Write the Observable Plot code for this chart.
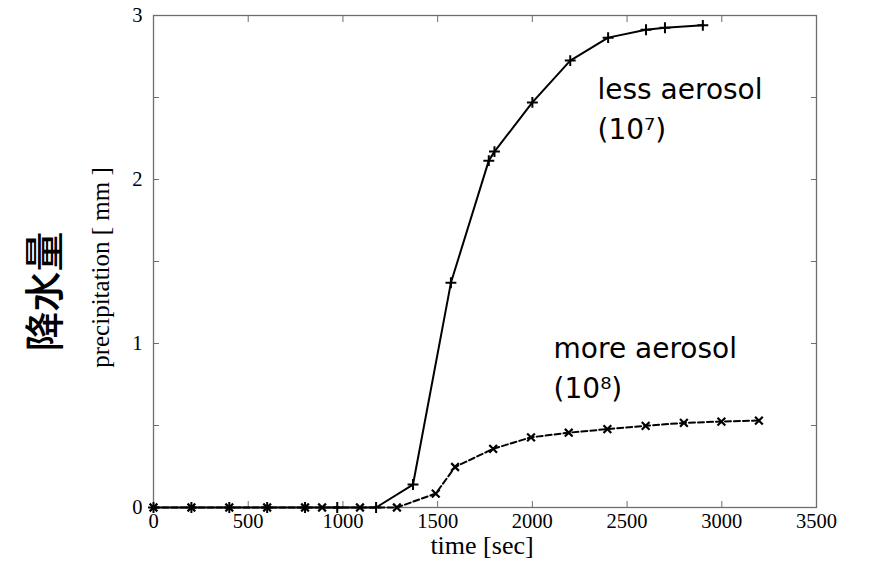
<!DOCTYPE html>
<html>
<head>
<meta charset="utf-8">
<script src="https://cdn.jsdelivr.net/npm/d3@7"></script>
<script src="https://cdn.jsdelivr.net/npm/@observablehq/plot@0.6"></script>
<style>
  html, body { margin: 0; padding: 0; background: #fff; }
  #chart svg { display: block; }
</style>
</head>
<body>
<div id="chart"></div>
<script>
// less aerosol (10^7) — solid line, "+" markers
const lessTime = [0, 200, 400, 600, 800, 970, 1175, 1370, 1570, 1770, 1800, 2000, 2200, 2400, 2600, 2700, 2900];
const lessPrecip = [0, 0, 0, 0, 0, 0, 0, 0.14, 1.37, 2.115, 2.17, 2.47, 2.725, 2.865, 2.913, 2.925, 2.94];
// more aerosol (10^8) — dashed line, "x" markers
const moreTime = [0, 200, 400, 600, 800, 890, 1090, 1285, 1490, 1592, 1793, 1993, 2192, 2396, 2598, 2800, 2998, 3196];
const morePrecip = [0, 0, 0, 0, 0, 0, 0, 0, 0.085, 0.247, 0.358, 0.428, 0.456, 0.478, 0.498, 0.516, 0.524, 0.53];

const xTicks = [0, 500, 1000, 1500, 2000, 2500, 3000, 3500];
const yTicks = [0, 1, 2, 3];
const yMinorTicks = [0, 0.5, 1, 1.5, 2, 2.5, 3];

const annoText = ["less aerosol\n(10\u2077)", "more aerosol\n(10\u2078)"];
const annoTime = [2344, 2112];
const annoPrecip = [2.244, 0.67];

const less = lessTime.map((t, i) => ({t, p: lessPrecip[i]}));
const more = moreTime.map((t, i) => ({t, p: morePrecip[i]}));
const anno = annoText.map((s, i) => ({s, t: annoTime[i], p: annoPrecip[i]}));

const serif = "'Liberation Serif', 'Times New Roman', serif";
const frameColor = "#6e6e6e";
const fmt = d3.format("d");

const chart = Plot.plot({
  width: 869,
  height: 563,
  marginLeft: 153,
  marginRight: 53,
  marginTop: 15,
  marginBottom: 56,
  style: {background: "#fff", fontFamily: serif},
  x: {domain: [0, 3500], axis: null},
  y: {domain: [0, 3], axis: null},
  marks: [
    // inward ticks
    Plot.axisX(xTicks, {anchor: "bottom", tickSize: -6, tickFormat: () => "", stroke: frameColor, label: null}),
    Plot.axisX(xTicks, {anchor: "top", tickSize: -6, tickFormat: () => "", stroke: frameColor, label: null}),
    Plot.axisY(yMinorTicks, {anchor: "left", tickSize: -6, tickFormat: () => "", stroke: frameColor, label: null}),
    Plot.axisY(yMinorTicks, {anchor: "right", tickSize: -6, tickFormat: () => "", stroke: frameColor, label: null}),
    // tick labels
    Plot.axisX(xTicks, {anchor: "bottom", tickSize: 0, tickPadding: 6, tickFormat: fmt, fontSize: 20.5, fill: "#000", fontFamily: serif, label: null}),
    Plot.axisY(yTicks, {anchor: "left", tickSize: 0, tickPadding: 11, tickFormat: fmt, fontSize: 20.5, fill: "#000", fontFamily: serif, label: null}),
    Plot.frame({stroke: frameColor, strokeWidth: 1.3}),
    // series
    Plot.line(less, {x: "t", y: "p", stroke: "#000", strokeWidth: 2}),
    Plot.dot(less, {x: "t", y: "p", symbol: "plus", r: 3.6, stroke: "#000", strokeWidth: 2}),
    Plot.line(more, {x: "t", y: "p", stroke: "#000", strokeWidth: 2, strokeDasharray: "6,3"}),
    Plot.dot(more, {x: "t", y: "p", symbol: "times", r: 3.6, stroke: "#000", strokeWidth: 2.2}),
    // annotations
    Plot.text(anno, {x: "t", y: "p", text: "s", textAnchor: "start", lineAnchor: "bottom", lineHeight: 1.43,
      fontSize: 28, fill: "#000", fontFamily: "Tahoma, 'DejaVu Sans', sans-serif"}),
    // axis titles
    Plot.text(["time [sec]"], {frameAnchor: "bottom", dx: -3, dy: 38, text: d => d, fontSize: 26,
      fill: "#000", fontFamily: serif, lineAnchor: "middle"}),
    Plot.text(["precipitation [ mm ]"], {frameAnchor: "left", dx: -53, dy: 6, rotate: -90, text: d => d,
      fontSize: 25, fill: "#000", fontFamily: serif, lineAnchor: "middle", textAnchor: "middle"}),
    Plot.text(["降水量"], {frameAnchor: "left", dx: -107, dy: 30, rotate: -90, text: d => d,
      fontSize: 40, fontWeight: 500, fill: "#000", fontFamily: "'Noto Sans CJK JP', 'Noto Sans CJK SC', sans-serif",
      lineAnchor: "middle", textAnchor: "middle"})
  ]
});
document.getElementById("chart").appendChild(chart);
</script>
</body>
</html>
